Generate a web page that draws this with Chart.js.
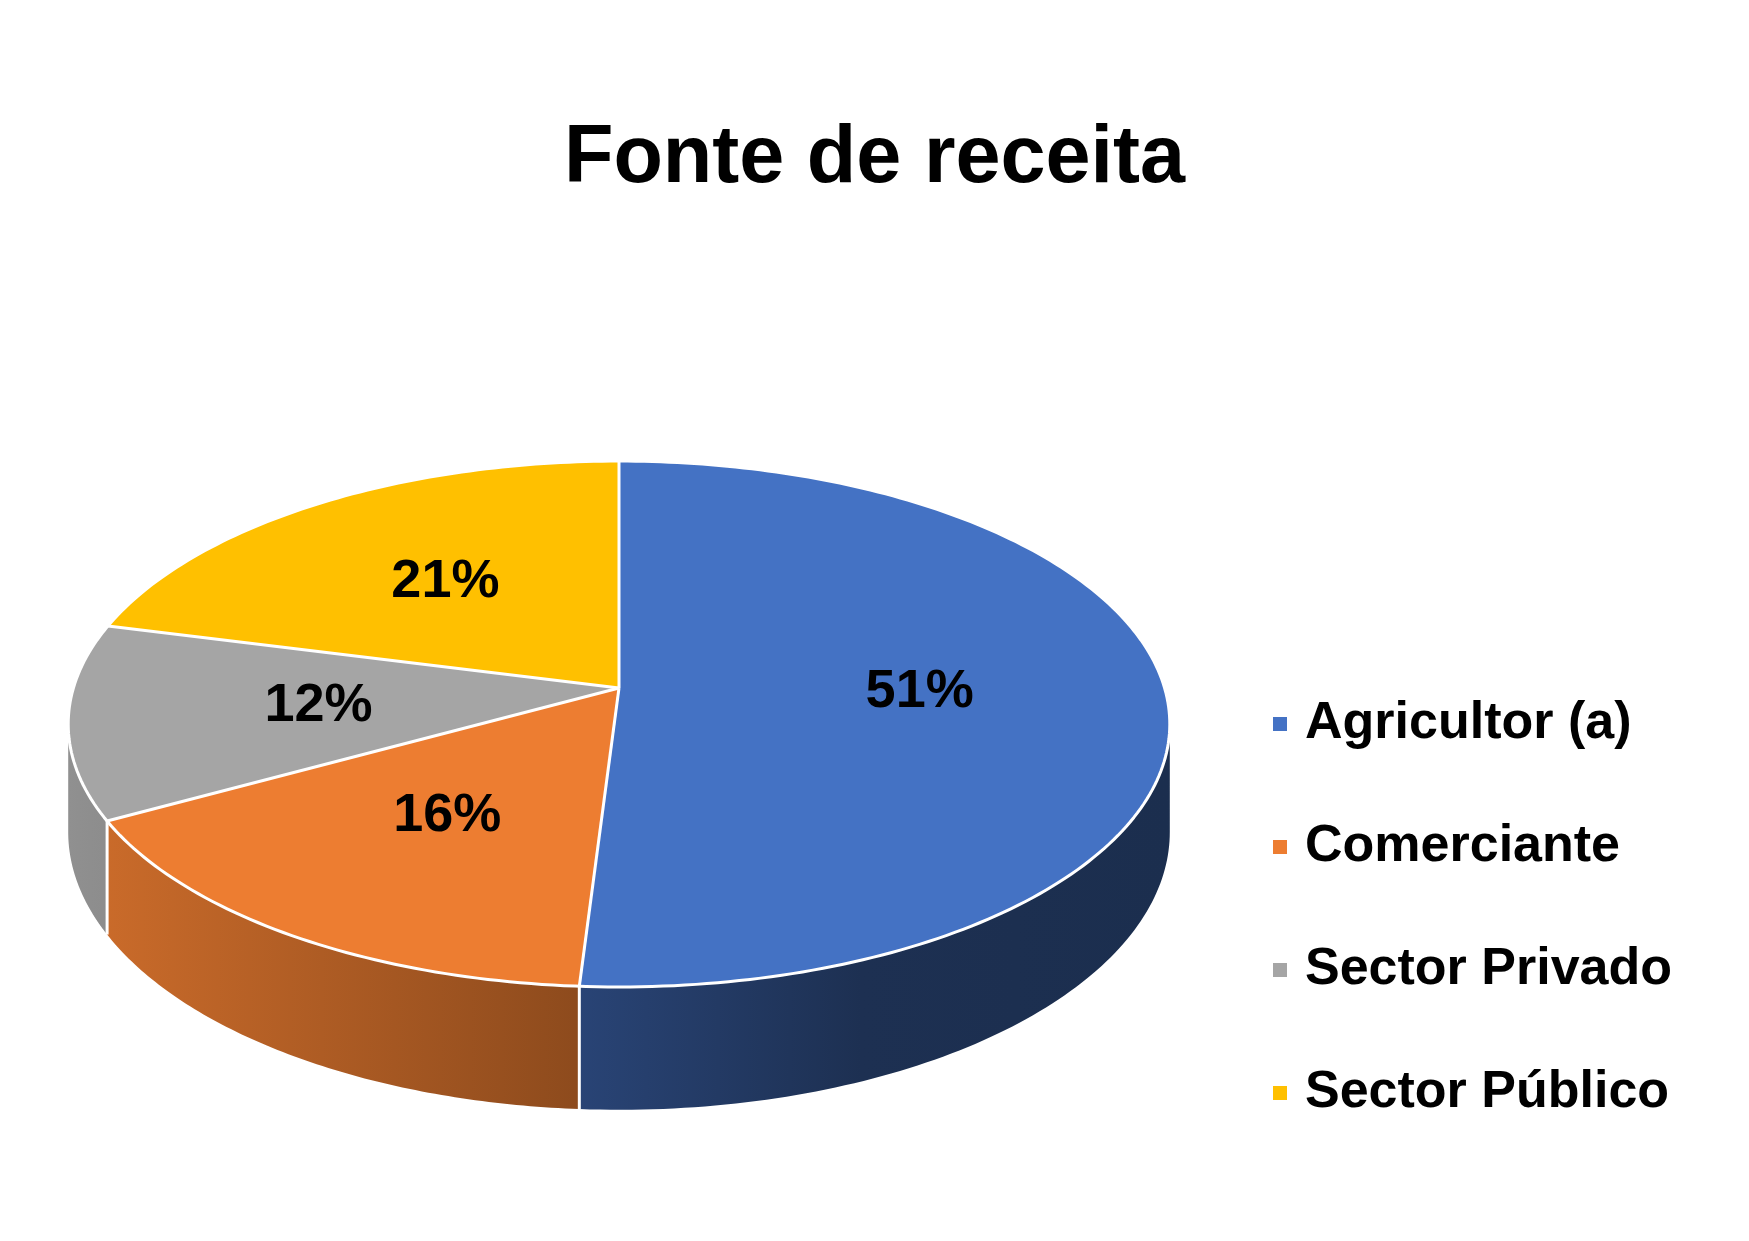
<!DOCTYPE html>
<html>
<head>
<meta charset="utf-8">
<title>Fonte de receita</title>
<script src="https://cdn.jsdelivr.net/npm/chart.js@4.4.0/dist/chart.umd.min.js"></script>
<style>
  html, body { margin: 0; padding: 0; background: #fff; }
  canvas { display: block; }
</style>
</head>
<body>
<canvas id="chart" width="1749" height="1241"></canvas>
<script>
const categories = ['Agricultor (a)', 'Comerciante', 'Sector Privado', 'Sector Público'];
const shares = [51, 16, 12, 21];
const sliceColors = ['#4472C4', '#ED7D31', '#A5A5A5', '#FFC000'];

const FONT = '"Liberation Sans", Arial, sans-serif';

// tilted disc: centre of the slices at (cx, cy), k = perspective, H = thickness
const disc = { cx: 619, cy: 688, A: 545.6, B: 258, k: 0.137, H: 106 };
// darkening of the side wall from left to right
const sideStops = [[0, 0.87], [0.46, 0.60], [0.72, 0.42], [1, 0.40]];

function project(u, v, h) {
    const d = 1 - disc.k * v;
    return { x: disc.cx + disc.A * u / d, y: disc.cy + (disc.B * v + (h || 0)) / d };
}

function shade(hex, f) {
    const n = parseInt(hex.slice(1), 16);
    const r = Math.round(((n >> 16) & 255) * f);
    const g = Math.round(((n >> 8) & 255) * f);
    const b = Math.round((n & 255) * f);
    return `rgb(${r},${g},${b})`;
}

function norm(a) {
    const t = 2 * Math.PI;
    return ((a % t) + t) % t;
}

const pie3d = {
    id: 'pie3d',
    beforeDatasetsDraw(chart) {
        const ctx = chart.ctx;
        const arcs = chart.getDatasetMeta(0).data;
        if (!arcs.length) return false;
        const R = arcs[0].outerRadius, ox = arcs[0].x, oy = arcs[0].y;
        const lo = Math.asin(disc.k), hi = Math.PI - lo;
        const xl = project(-Math.cos(lo), Math.sin(lo)).x;
        const xr = project(Math.cos(lo), Math.sin(lo)).x;

        // side walls (only the front part is visible)
        arcs.forEach((arc, i) => {
            [-2 * Math.PI, 0, 2 * Math.PI].forEach(shift => {
                const a0 = Math.max(arc.startAngle + shift, lo);
                const a1 = Math.min(arc.endAngle + shift, hi);
                if (a1 <= a0) return;
                const grad = ctx.createLinearGradient(xl, 0, xr, 0);
                sideStops.forEach(([p, f]) => grad.addColorStop(p, shade(sliceColors[i], f)));
                const n = 90;
                ctx.beginPath();
                for (let j = 0; j <= n; j++) {
                    const a = a0 + (a1 - a0) * j / n;
                    const p = project(Math.cos(a), Math.sin(a), 0);
                    j ? ctx.lineTo(p.x, p.y) : ctx.moveTo(p.x, p.y);
                }
                for (let j = n; j >= 0; j--) {
                    const a = a0 + (a1 - a0) * j / n;
                    const p = project(Math.cos(a), Math.sin(a), disc.H);
                    ctx.lineTo(p.x, p.y);
                }
                ctx.closePath();
                ctx.fillStyle = grad;
                ctx.fill();
            });
        });
        ctx.save();
        ctx.strokeStyle = '#fff';
        ctx.lineWidth = 3;
        arcs.forEach(arc => {
            const a = norm(arc.startAngle);
            if (a > lo && a < hi) {
                const p = project(Math.cos(a), Math.sin(a), 0);
                const q = project(Math.cos(a), Math.sin(a), disc.H);
                ctx.beginPath();
                ctx.moveTo(p.x, p.y);
                ctx.lineTo(q.x, q.y);
                ctx.stroke();
            }
        });
        ctx.restore();

        // top face: let Chart.js draw the slices flat, then tilt the picture row by row
        const Rs = 600, pad = 4;
        const off = document.createElement('canvas');
        off.width = off.height = 2 * (Rs + pad);
        const octx = off.getContext('2d');
        const s = Rs / R;
        octx.setTransform(s, 0, 0, s, Rs + pad - ox * s, Rs + pad - oy * s);
        arcs.forEach(arc => arc.draw(octx));

        const vAt = t => t / (disc.B + disc.k * t);
        const yTop = Math.floor(disc.cy - disc.B / (1 + disc.k)) - 1;
        const yBot = Math.ceil(disc.cy + disc.B / (1 - disc.k)) + 1;
        for (let y = yTop; y <= yBot; y++) {
            const t = y + 0.5 - disc.cy;
            const v = vAt(t), v0 = vAt(t - 0.5), v1 = vAt(t + 0.5);
            if (v1 < -1 || v0 > 1) continue;
            const half = disc.A / (1 - disc.k * v);
            ctx.drawImage(off, pad, Rs + pad + v0 * Rs, 2 * Rs, (v1 - v0) * Rs,
                disc.cx - half, y, 2 * half, 1);
        }

        // white edges of the top face
        ctx.save();
        ctx.strokeStyle = '#fff';
        ctx.lineWidth = 3;
        ctx.lineJoin = 'round';
        arcs.forEach(arc => {
            const p = project(Math.cos(arc.startAngle), Math.sin(arc.startAngle), 0);
            ctx.beginPath();
            ctx.moveTo(disc.cx, disc.cy);
            ctx.lineTo(p.x, p.y);
            ctx.stroke();
        });
        ctx.beginPath();
        for (let j = 0; j <= 360; j++) {
            const a = j / 360 * 2 * Math.PI;
            const p = project(Math.cos(a), Math.sin(a), 0);
            j ? ctx.lineTo(p.x, p.y) : ctx.moveTo(p.x, p.y);
        }
        ctx.stroke();
        ctx.restore();
        return false;
    },
    afterDraw(chart) {
        const ctx = chart.ctx;
        const arcs = chart.getDatasetMeta(0).data;
        const total = shares.reduce((a, b) => a + b, 0);
        ctx.save();
        // percentage labels
        ctx.fillStyle = '#000';
        ctx.font = 'bold 54px ' + FONT;
        ctx.textAlign = 'center';
        ctx.textBaseline = 'middle';
        arcs.forEach((arc, i) => {
            const m = (arc.startAngle + arc.endAngle) / 2;
            const p = project(0.55 * Math.cos(m), 0.55 * Math.sin(m), 0);
            ctx.fillText(Math.round(shares[i] / total * 100) + '%', p.x, p.y);
        });
        // legend
        ctx.font = 'bold 52px ' + FONT;
        ctx.textAlign = 'left';
        categories.forEach((label, i) => {
            const y = 724 + i * 123;
            ctx.fillStyle = sliceColors[i];
            ctx.fillRect(1273, y - 7, 14, 14);
            ctx.fillStyle = '#000';
            ctx.fillText(label, 1305, y);
        });
        ctx.restore();
    }
};

new Chart(document.getElementById('chart'), {
    type: 'pie',
    data: {
        labels: categories,
        datasets: [{
            data: shares,
            backgroundColor: sliceColors,
            borderWidth: 0
        }]
    },
    options: {
        responsive: false,
        animation: false,
        devicePixelRatio: 1,
        layout: { padding: 0 },
        plugins: {
            title: {
                display: true,
                text: 'Fonte de receita',
                color: '#000',
                font: { family: FONT, size: 81, weight: 'bold', lineHeight: 1.2 },
                padding: { top: 111, bottom: 40 }
            },
            legend: { display: false },
            tooltip: { enabled: false }
        }
    },
    plugins: [pie3d]
});
</script>
</body>
</html>
